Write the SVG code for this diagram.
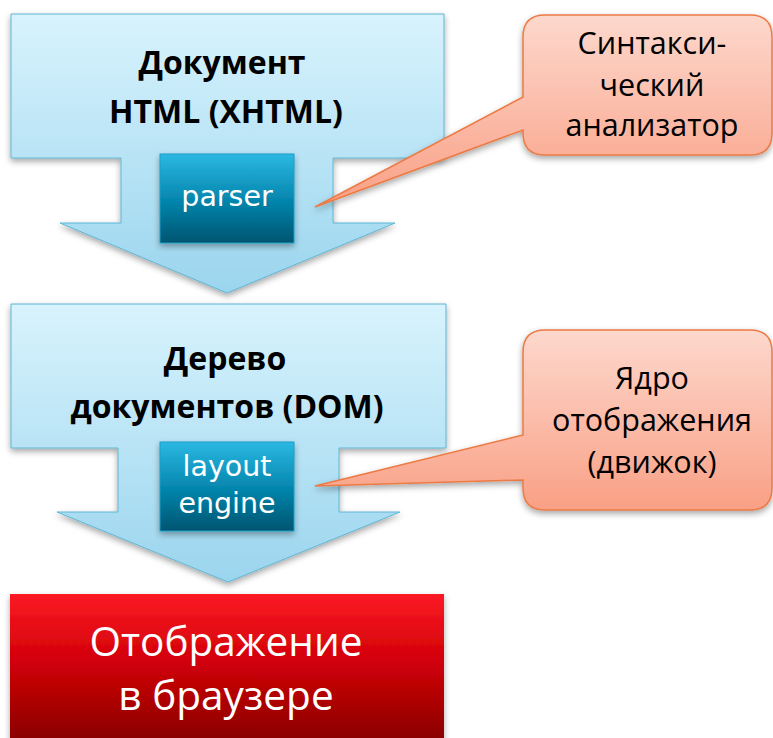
<svg xmlns="http://www.w3.org/2000/svg" width="773" height="738" viewBox="0 0 773 738">
<defs>
<linearGradient id="gBlue" x1="0" y1="0" x2="0" y2="1"><stop offset="0" stop-color="#d8f3fd"/><stop offset="1" stop-color="#9bd5ee"/></linearGradient>
<linearGradient id="gTeal" x1="0" y1="0" x2="0" y2="1"><stop offset="0" stop-color="#2bb8e2"/><stop offset="0.5" stop-color="#0688b0"/><stop offset="1" stop-color="#035570"/></linearGradient>
<linearGradient id="gSalmon" x1="0" y1="0" x2="0" y2="1"><stop offset="0" stop-color="#fdd8cd"/><stop offset="1" stop-color="#f9a085"/></linearGradient>
<linearGradient id="gRed" x1="0" y1="0" x2="0" y2="1"><stop offset="0" stop-color="#fb1a24"/><stop offset="0.45" stop-color="#d20008"/><stop offset="1" stop-color="#860000"/></linearGradient>
<filter id="sh" x="-10%" y="-10%" width="125%" height="130%"><feDropShadow dx="0" dy="3" stdDeviation="3" flood-color="#000" flood-opacity="0.35"/></filter>
</defs>
<style>
.arrow{fill:url(#gBlue);stroke:#5fb6d4;stroke-width:1;filter:url(#sh)}
.teal{fill:url(#gTeal);stroke:#1a9ec8;stroke-width:1;filter:url(#sh)}
.call{fill:url(#gSalmon);stroke:#ec7a44;stroke-width:1.5;filter:url(#sh)}
.bt{font-family:"Open Sans","Noto Sans",sans-serif;font-weight:bold;font-size:32px;fill:#000;text-anchor:middle}
.wt{font-family:"DejaVu Sans","Noto Sans",sans-serif;font-size:28.5px;fill:#fff;text-anchor:middle}
.ct{font-family:"Open Sans","Noto Sans",sans-serif;font-size:30.5px;fill:#000;text-anchor:middle}
.rt{font-family:"Open Sans","Noto Sans",sans-serif;font-size:40.5px;fill:#fff;text-anchor:middle}
</style>
<g id="document">
<path class="arrow" d="M11,14 H444 V158 H333 V223 H395 L227,293 L60,223 H121 V158 H11 Z"/>
<text class="bt" x="222" y="74">Документ</text>
<text class="bt" x="226" y="123">HTML (XHTML)</text>
</g>
<g id="parser">
<rect class="teal" x="160" y="154" width="134" height="89"/>
<text class="wt" x="227" y="206">parser</text>
</g>
<g id="dom">
<path class="arrow" d="M11,304 H446 V448 H339 V512 H400 L228,582 L57,512 H118 V448 H11 Z"/>
<text class="bt" x="225" y="370">Дерево</text>
<text class="bt" x="227" y="418">документов (DOM)</text>
</g>
<g id="layout-engine">
<rect class="teal" x="160" y="442" width="134" height="89"/>
<text class="wt" x="227" y="476">layout</text>
<text class="wt" x="227" y="513">engine</text>
</g>
<g id="display">
<rect x="10" y="594" width="434" height="150" fill="url(#gRed)" filter="url(#sh)"/>
<text class="rt" x="226" y="656">Отображение</text>
<text class="rt" x="226" y="710">в браузере</text>
</g>
<g id="callout-parser">
<path class="call" d="M545,15 H750 Q772,15 772,37 V133 Q772,155 750,155 H545 Q523,155 523,133 V130 L315,207 L523,97 V37 Q523,15 545,15 Z"/>
<text class="ct" x="652" y="54">Синтакси-</text>
<text class="ct" x="652" y="96">ческий</text>
<text class="ct" x="652" y="136">анализатор</text>
</g>
<g id="callout-engine">
<path class="call" d="M545,330 H750 Q772,330 772,352 V488 Q772,510 750,510 H545 Q523,510 523,488 V480 L315,486 L523,435 V352 Q523,330 545,330 Z"/>
<text class="ct" x="652" y="389">Ядро</text>
<text class="ct" x="652" y="431">отображения</text>
<text class="ct" x="652" y="473">(движок)</text>
</g>
</svg>
